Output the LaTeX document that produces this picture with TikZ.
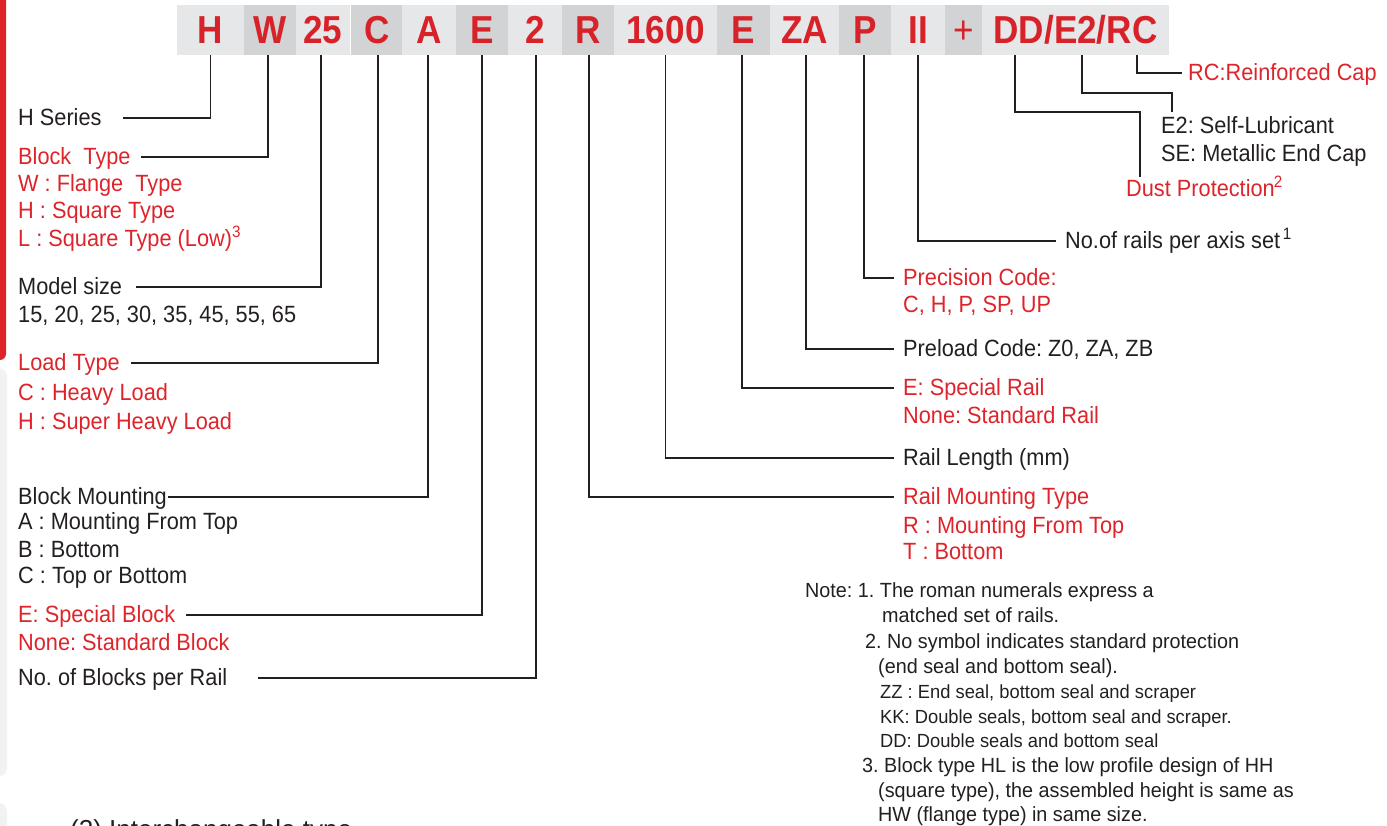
\documentclass[tikz,border=0pt]{standalone}
\usepackage{fontspec}
\setmainfont{Liberation Sans}
\newfontfamily\mainf{Liberation Sans}[FakeStretch=0.925]
\newfontfamily\notef{Liberation Sans}[FakeStretch=0.965]
\newfontfamily\codef{Liberation Sans}[FakeStretch=0.9]
\frenchspacing
\definecolor{ink}{RGB}{35,31,32}
\definecolor{tred}{RGB}{221,36,42}
\definecolor{cred}{RGB}{216,34,41}
\definecolor{barlight}{RGB}{230,231,232}
\definecolor{bardark}{RGB}{209,211,212}
\definecolor{panel}{RGB}{242,242,242}
\tikzset{
  lbl/.style={inner sep=0pt, text height=15pt, text depth=0pt, anchor=west,
    font=\mainf\fontsize{23.5}{26}\selectfont\frenchspacing, text=ink},
  rlbl/.style={lbl, text=tred},
  seg/.style={inner sep=0pt, text height=28pt, text depth=0pt, minimum height=50pt,
    font=\codef\bfseries\fontsize{39}{39}\selectfont, text=cred},
  light/.style={seg, fill=barlight},
  dark/.style={seg, fill=bardark},
  lead/.style={draw=ink, line width=1.3pt},
  note/.style={inner sep=0pt, anchor=base west, font=\notef\fontsize{20.5}{22}\selectfont\frenchspacing, text=ink},
  notesm/.style={note, font=\notef\fontsize{19}{21}\selectfont\frenchspacing}
}
\begin{document}
\begin{tikzpicture}[x=1pt,y=-1pt]
\useasboundingbox (0,0) rectangle (1387,826);
\begin{scope}
\clip (0,0) rectangle (1387,826);
\fill[tred, rounded corners=6pt] (-20,-20) rectangle (6,360);
\fill[panel, rounded corners=8pt] (-20,368) rectangle (7,776);
\fill[panel, rounded corners=8pt] (-20,803) rectangle (7,900);
\node[inner sep=0pt, anchor=base west, font=\fontsize{26}{28}\selectfont, text=ink] (nexttitle) at (70,838) {(2) Interchangeable type};
\end{scope}

% code bar
\node[light, minimum width=67.5pt] (sH) at (210.5,30) {H};
\node[dark, minimum width=52.5pt] (sW) at (270,30) {W};
\node[light, minimum width=54.5pt] (s25) at (323,30) {25};
\node[dark, minimum width=52.5pt] (sC) at (377,30) {C};
\node[light, minimum width=54.5pt] (sA) at (429,30) {A};
\node[dark, minimum width=52.5pt] (sE) at (482,30) {E};
\node[light, minimum width=54.5pt] (s2) at (535,30) {2};
\node[dark, minimum width=52.5pt] (sR) at (588,30) {R};
\node[light, minimum width=103.5pt] (s1600) at (665.5,30) {1600};
\node[dark, minimum width=53.5pt] (sRE) at (743.5,30) {E};
\node[light, minimum width=69.5pt] (sZA) at (804.5,30) {ZA};
\node[dark, minimum width=52.5pt] (sP) at (865,30) {P};
\node[light, minimum width=54.5pt] (sII) at (918,30) {II};
\node[dark, minimum width=37.5pt, font=\codef\fontsize{39}{39}\selectfont] (sPlus) at (963.5,30) {+};
\node[light, minimum width=187pt] (sDD) at (1075.5,30) {DD/E2/RC};

\coordinate (tDD) at (1015,55);
\coordinate (tE2) at (1082,55);
\coordinate (tRC) at (1137,55);
\coordinate (ddbend) at (1140,112);
\coordinate (ddend) at (1140,177);
\coordinate (e2bend) at (1172,93);
\coordinate (e2end) at (1172,112);

% left labels
\node[lbl] (hser) at (18,118) {H Series};
\node[rlbl] (btype) at (18,157) {Block\ \ Type};
\node[rlbl] (bt1) at (18,184.5) {W : Flange\ \ Type};
\node[rlbl] (bt2) at (18,211.5) {H : Square Type};
\node[rlbl] (bt3) at (18,239.5) {L : Square Type (Low)\textsuperscript{3}};
\node[lbl] (msize) at (18,287) {Model size};
\node[lbl] (ms1) at (18,315.5) {15, 20, 25, 30, 35, 45, 55, 65};
\node[rlbl] (ltype) at (18,363) {Load Type};
\node[rlbl] (lt1) at (18,392.5) {C : Heavy Load};
\node[rlbl] (lt2) at (18,421.5) {H : Super Heavy Load};
\node[lbl] (bmount) at (18,497) {Block Mounting};
\node[lbl] (bm1) at (18,521.5) {A : Mounting From Top};
\node[lbl] (bm2) at (18,549.5) {B : Bottom};
\node[lbl] (bm3) at (18,575.5) {C : Top or Bottom};
\node[rlbl] (eblock) at (18,615) {E: Special Block};
\node[rlbl] (eb1) at (18,642.5) {None: Standard Block};
\node[lbl] (nblock) at (18,678) {No. of Blocks per Rail};

% right labels
\node[lbl] (nrail) at (1065,241) {No.of rails per axis set\textsuperscript{\,1}};
\node[rlbl] (prec) at (903,278) {Precision Code:};
\node[rlbl] (pr1) at (903,305.5) {C, H, P, SP, UP};
\node[lbl] (prel) at (903,349) {Preload Code: Z0, ZA, ZB};
\node[rlbl] (erail) at (903,388) {E: Special Rail};
\node[rlbl] (er1) at (903,415.5) {None: Standard Rail};
\node[lbl] (rlen) at (903,458) {Rail Length (mm)};
\node[rlbl] (rmt) at (903,497) {Rail Mounting Type};
\node[rlbl] (rm1) at (903,525.5) {R : Mounting From Top};
\node[rlbl] (rm2) at (903,551.5) {T : Bottom};

% top right labels
\node[rlbl] (rc) at (1188,73) {RC:Reinforced Cap};
\node[lbl] (e2t) at (1161,126) {E2: Self-Lubricant};
\node[lbl] (se) at (1161,154.5) {SE: Metallic End Cap};
\node[rlbl] (dust) at (1126,189.5) {Dust Protection\kern-1pt\textsuperscript{2}};

% leaders left
\draw[lead] (sH.south) |- ([xshift=21pt]hser.east);
\draw[lead] (sW.south -| 268,0) |- ([xshift=10pt]btype.east);
\draw[lead] (s25.south -| 321,0) |- ([xshift=14pt]msize.east);
\draw[lead] (sC.south -| 378,0) |- ([xshift=11pt]ltype.east);
\draw[lead] (sA.south -| 428,0) |- ([xshift=1pt]bmount.east);
\draw[lead] (sE.south) |- ([xshift=11pt]eblock.east);
\draw[lead] (s2.south -| 536,0) |- ([xshift=31pt]nblock.east);
% leaders right
\draw[lead] (sR.south -| 589,0) |- ([xshift=-9pt]rmt.west);
\draw[lead] (s1600.south) |- ([xshift=-9pt]rlen.west);
\draw[lead] (sRE.south -| 742,0) |- ([xshift=-9pt]erail.west);
\draw[lead] (sZA.south -| 806,0) |- ([xshift=-9pt]prel.west);
\draw[lead] (sP.south -| 864,0) |- ([xshift=-9pt]prec.west);
\draw[lead] (sII.south) |- ([xshift=-9pt]nrail.west);
\draw[lead] (tDD) |- (ddbend) -- (ddend);
\draw[lead] (tE2) |- (e2bend) -- (e2end);
\draw[lead] (tRC) |- ([xshift=-6pt]rc.west);

% notes
\node[note] (n1) at (805,597) {Note: 1. The roman numerals express a};
\node[note] (n2) at (882,622) {matched set of rails.};
\node[note] (n3) at (865,648) {2. No symbol indicates standard protection};
\node[note] (n4) at (878,673) {(end seal and bottom seal).};
\node[notesm] (n5) at (880,698) {ZZ : End seal, bottom seal and scraper};
\node[notesm] (n6) at (880,723) {KK: Double seals, bottom seal and scraper.};
\node[notesm] (n7) at (880,747) {DD: Double seals and bottom seal};
\node[note] (n8) at (862,772) {3. Block type HL is the low profile design of HH};
\node[note] (n9) at (878,797) {(square type), the assembled height is same as};
\node[note] (n10) at (878,821) {HW (flange type) in same size.};
\end{tikzpicture}
\end{document}
